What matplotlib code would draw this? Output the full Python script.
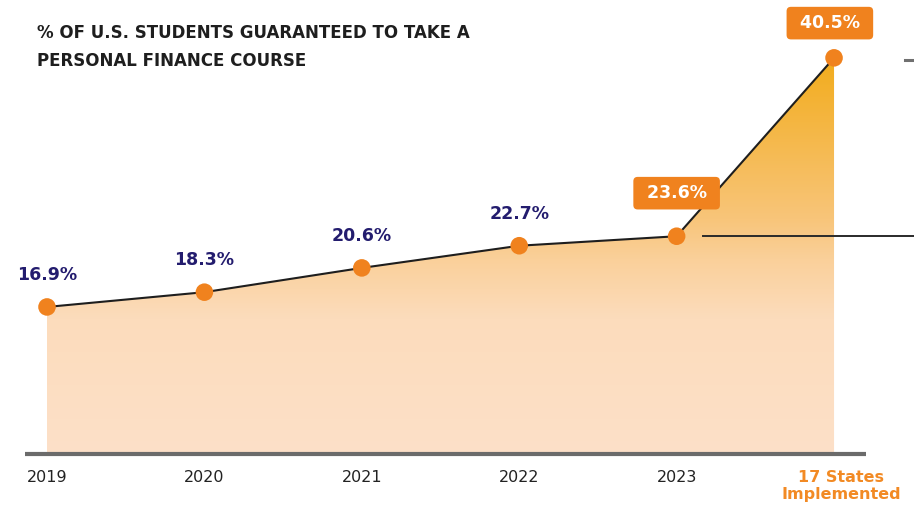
import numpy as np
import matplotlib.pyplot as plt
from matplotlib.colors import LinearSegmentedColormap
from matplotlib.patches import Polygon

plt.rcParams['font.family'] = ['DejaVu Sans']

# data
years = ['2019', '2020', '2021', '2022', '2023', '17 States\nImplemented']
pct = [16.9, 18.3, 20.6, 22.7, 23.6, 40.5]
labels = ['16.9%', '18.3%', '20.6%', '22.7%', '23.6%', '40.5%']
highlight = [False, False, False, False, True, True]
title = '% OF U.S. STUDENTS GUARANTEED TO TAKE A\nPERSONAL FINANCE COURSE'

base = 3.06
navy = '#231C6E'
orange = '#F0821E'

fig = plt.figure(figsize=(9.14, 5.15), dpi=100)
ax = fig.add_axes([0, 0, 1, 1])
ax.set_xlim(-0.2986, 5.508)
ax.set_ylim(-2.81, 45.98)
ax.axis('off')

x = np.arange(len(pct))

# gradient fill under the line
cmap = LinearSegmentedColormap.from_list(
    'fill', [(0, '#FDE0C8'), (0.34, '#FCDCBC'), (0.49, '#FAD09A'),
             (0.59, '#F8C57A'), (1, '#F2AC1C')])
grad = np.linspace(0, 1, 256).reshape(-1, 1)
img = ax.imshow(grad, cmap=cmap, aspect='auto', origin='lower',
                extent=[x[0], x[-1], base, max(pct)], zorder=1)
poly = Polygon(np.column_stack([np.r_[x, x[-1], x[0]], np.r_[pct, base, base]]),
               closed=True, facecolor='none', edgecolor='none')
ax.add_patch(poly)
img.set_clip_path(poly)

# baseline
ax.plot([-0.14, 5.205], [base - 0.1, base - 0.1], color='#6b6b6b', lw=3, zorder=2,
        solid_capstyle='butt')

# leader lines on the right
ax.plot([4.17, 5.6], [pct[4], pct[4]], color='#2a2a2a', lw=1.4, zorder=3)
ax.plot([5.45, 5.6], [pct[5] - 0.2, pct[5] - 0.2], color='#707070', lw=2.2, zorder=3)

ax.plot(x, pct, color='#1e1e1e', lw=1.5, zorder=4)
ax.scatter(x, pct, s=160, color=orange, zorder=5, edgecolors='none')

for xi, v, lab, hl in zip(x, pct, labels, highlight):
    if hl:
        dy = 31 if v < 30 else 25
        dx = 0 if v < 30 else -3
        ax.annotate(' ' + lab + ' ', (xi, v), xytext=(dx, dy), textcoords='offset points',
                    ha='center', va='center', fontsize=12.5, fontweight='bold',
                    color='white', zorder=6,
                    bbox=dict(boxstyle='round,pad=0.42,rounding_size=0.25',
                              fc=orange, ec='none'))
    else:
        ax.annotate(lab, (xi, v), xytext=(0, 23), textcoords='offset points',
                    ha='center', va='center', fontsize=12.5, fontweight='bold',
                    color=navy, zorder=6)

# x labels
for xi, yl in zip(x, years):
    if '\n' in yl:
        ax.annotate(yl, (xi, base), xytext=(5, -12), textcoords='offset points',
                    ha='center', va='top', fontsize=11.5, fontweight='bold',
                    color='#F28A24', linespacing=1.2)
    else:
        ax.annotate(yl, (xi, base), xytext=(0, -12), textcoords='offset points',
                    ha='center', va='top', fontsize=11.5, color='#222222')

fig.text(37 / 914, 1 - 24 / 515, title, ha='left', va='top', fontsize=12,
         fontweight='bold', color='#1e1e1e', linespacing=1.68)

fig.savefig('out.png', dpi=100)
